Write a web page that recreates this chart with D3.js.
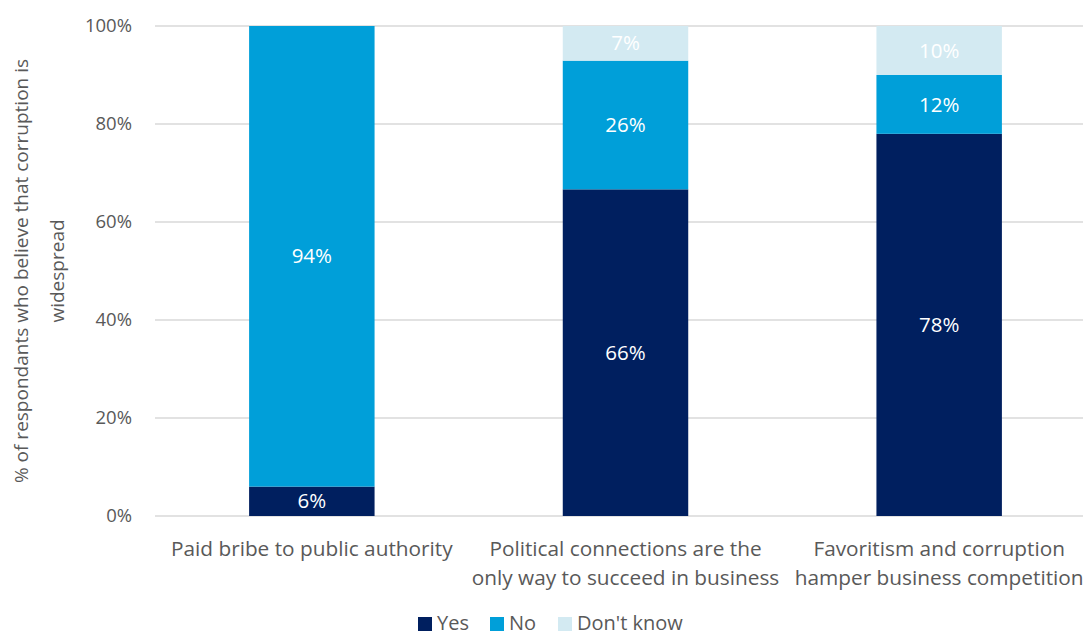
<!DOCTYPE html>
<html>
<head>
<meta charset="utf-8">
<script src="https://cdn.jsdelivr.net/npm/d3@7"></script>
<style>
  html, body { margin: 0; padding: 0; background: #fff; }
  svg { display: block; font-family: "Open Sans", sans-serif; }
</style>
</head>
<body>
<svg id="chart" width="1083" height="637"></svg>
<script>
// Survey responses, percent of respondents per statement
const categories = [
  ["Paid bribe to public authority"],
  ["Political connections are the", "only way to succeed in business"],
  ["Favoritism and corruption", "hamper business competition"]
];
const seriesNames = ["Yes", "No", "Don't know"];
const yesValues = [6, 66, 78];
const noValues = [94, 26, 12];
const dontKnowValues = [0, 7, 10];
const yTicks = [0, 0.2, 0.4, 0.6, 0.8, 1.0];
const colors = ["#001F5F", "#009FD9", "#D3EAF2"];

const svg = d3.select("#chart");
const margin = { top: 26, left: 155, bottom: 121 };
const plotW = 941;
const height = 637 - margin.top - margin.bottom;

const rows = categories.map((c, i) => ({
  key: i,
  "Yes": yesValues[i],
  "No": noValues[i],
  "Don't know": dontKnowValues[i]
}));

const stack = d3.stack().keys(seriesNames).offset(d3.stackOffsetExpand);
const layers = stack(rows);

const x = d3.scaleBand().domain(rows.map(r => r.key))
  .range([margin.left, margin.left + plotW]).paddingInner(0.6).paddingOuter(0.3);
const y = d3.scaleLinear().domain([0, 1]).range([margin.top + height, margin.top]);

// gridlines
svg.append("g")
  .selectAll("line").data(yTicks).join("line")
  .attr("x1", margin.left).attr("x2", margin.left + plotW)
  .attr("y1", d => y(d)).attr("y2", d => y(d))
  .attr("stroke", "#D9D9D9").attr("stroke-width", 1.3);

// y axis tick labels
const yAxis = d3.axisLeft(y).tickValues(yTicks).tickFormat(d3.format(".0%")).tickSize(0).tickPadding(23);
const ya = svg.append("g").attr("transform", `translate(${margin.left},0)`).call(yAxis);
ya.select(".domain").remove();
ya.selectAll("text").attr("fill", "#595959").style("font-size", "18.5px").style("font-family", "Open Sans");

// stacked bars
const layerG = svg.append("g").selectAll("g").data(layers).join("g")
  .attr("fill", (d, i) => colors[i]);
layerG.selectAll("rect").data(d => d.filter(p => p[1] > p[0])).join("rect")
  .attr("x", d => x(d.data.key))
  .attr("width", x.bandwidth())
  .attr("y", d => y(d[1]))
  .attr("height", d => y(d[0]) - y(d[1]));

// value labels
layers.forEach((layer, li) => {
  svg.append("g").selectAll("text").data(layer.filter(p => p[1] > p[0])).join("text")
    .attr("x", d => x(d.data.key) + x.bandwidth() / 2)
    .attr("y", d => (y(d[0]) + y(d[1])) / 2)
    .attr("dy", "0.35em")
    .attr("text-anchor", "middle")
    .attr("fill", "#fff")
    .style("font-size", "20.5px")
    .text(d => d.data[layer.key] + "%");
});

// category labels
const xl = svg.append("g");
categories.forEach((lines, i) => {
  const t = xl.append("text")
    .attr("x", x(i) + x.bandwidth() / 2)
    .attr("y", 556)
    .attr("text-anchor", "middle")
    .attr("fill", "#595959")
    .style("font-size", "20.8px");
  lines.forEach((ln, j) => {
    t.append("tspan").attr("x", x(i) + x.bandwidth() / 2).attr("dy", j === 0 ? 0 : 29).text(ln);
  });
});

// y axis title
const yt = svg.append("text")
  .attr("transform", `translate(0,${margin.top + height / 2}) rotate(-90)`)
  .attr("text-anchor", "middle")
  .attr("fill", "#595959")
  .style("font-size", "19px");
yt.append("tspan").attr("x", 0).attr("y", 28).text("% of respondants who believe that corruption is");
yt.append("tspan").attr("x", 0).attr("y", 64).text("widespread");

// legend
const legendX = [418, 490, 558];
const lg = svg.append("g");
seriesNames.forEach((name, i) => {
  lg.append("rect").attr("x", legendX[i]).attr("y", 617).attr("width", 14).attr("height", 14).attr("fill", colors[i]);
  lg.append("text").attr("x", legendX[i] + 19).attr("y", 630)
    .attr("fill", "#595959").style("font-size", "20px").text(name);
});
</script>
</body>
</html>
